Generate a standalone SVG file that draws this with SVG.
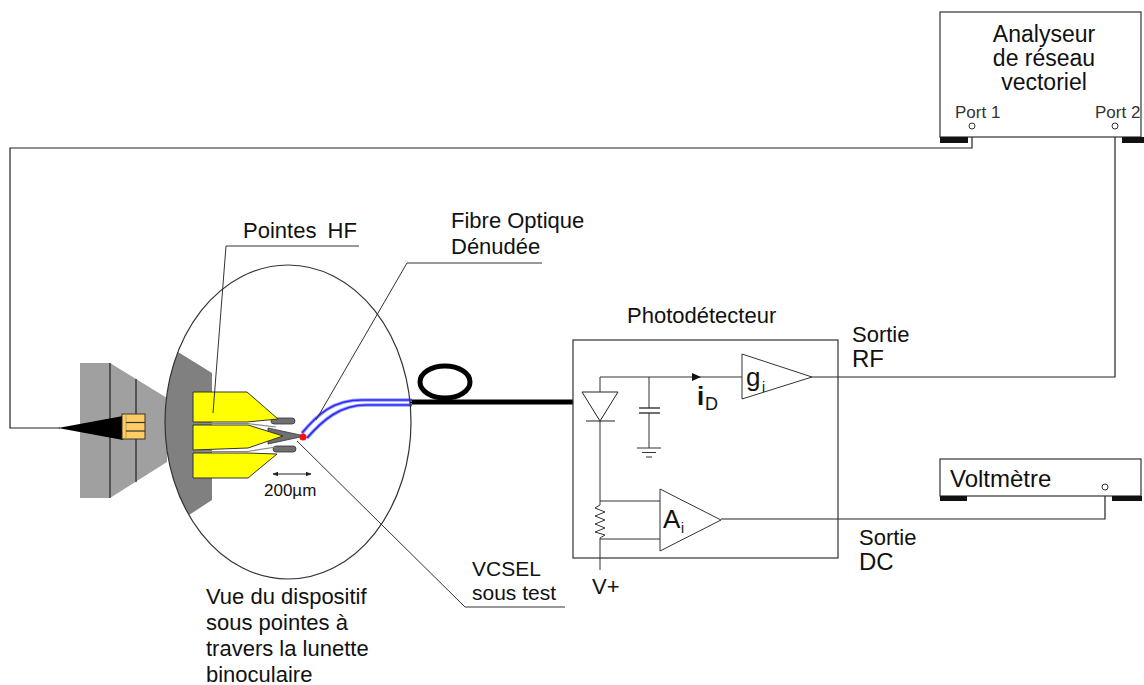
<svg xmlns="http://www.w3.org/2000/svg" width="1144" height="685" viewBox="0 0 1144 685">
  <style>
    text { font-family: "Liberation Sans", Arial, sans-serif; fill: #111; }
    .lbl { font-size: 22px; }
    .port { font-size: 17px; fill: #333; }
    .wire { fill: none; stroke: #222; stroke-width: 1.2; }
    .thin { fill: none; stroke: #333; stroke-width: 1; }
    .bar { fill: #111; }
    .yel { fill: #ffff00; stroke: #333; stroke-width: 1; }
    .tip { fill: #707070; stroke: #333; stroke-width: 0.8; }
    .fib { fill: none; stroke: #2a2aff; stroke-width: 1.6; }
    .fibglow { fill: none; stroke: #9aa0ff; stroke-width: 3.5; }
  </style>
  <defs>
    <marker id="ah" viewBox="0 0 10 10" refX="9" refY="5" markerWidth="6" markerHeight="6" orient="auto-start-reverse">
      <path d="M0,1 L10,5 L0,9 Z" fill="#222"/>
    </marker>
  </defs>

  <rect width="1144" height="685" fill="#fff"/>

  <!-- connectors -->
  <g id="connectors">
    <!-- port 1 to probe station -->
    <polyline class="wire" points="972,129 972,148 10,148 10,428 60,428"/>
    <!-- port 2 to RF output -->
    <polyline class="wire" points="1115,129 1115,377 812,377"/>
    <!-- DC output to voltmeter -->
    <polyline class="wire" points="721,519 1105,519 1105,490"/>
    <!-- optical fibre with loop -->
    <line x1="410" y1="402" x2="573" y2="402" stroke="#000" stroke-width="5"/>
    <ellipse cx="445" cy="382" rx="25" ry="16" fill="none" stroke="#000" stroke-width="5"/>
  </g>

  <!-- vector network analyser -->
  <g id="analyseur">
    <rect x="940" y="12" width="201" height="125" fill="#fff" stroke="#333" stroke-width="1.2"/>
    <rect class="bar" x="940" y="137" width="28" height="6"/>
    <rect class="bar" x="1122" y="137" width="22" height="6"/>
    <text x="1044" y="42" font-size="23" text-anchor="middle">Analyseur</text>
    <text x="1044" y="66" font-size="23" text-anchor="middle">de réseau</text>
    <text x="1044" y="90" font-size="23" text-anchor="middle">vectoriel</text>
    <text class="port" x="955" y="118">Port 1</text>
    <text class="port" x="1095" y="118">Port 2</text>
    <circle cx="972" cy="126" r="3" fill="#fff" stroke="#333" stroke-width="1"/>
    <circle cx="1115" cy="126" r="3" fill="#fff" stroke="#333" stroke-width="1"/>
  </g>

  <!-- voltmeter -->
  <g id="voltmetre">
    <rect x="940" y="459" width="201" height="37" fill="#fff" stroke="#333" stroke-width="1.2"/>
    <rect class="bar" x="940" y="496" width="27" height="5"/>
    <rect class="bar" x="1112" y="496" width="30" height="5"/>
    <text x="950" y="487" font-size="24">Voltmètre</text>
    <circle cx="1105" cy="487" r="3" fill="#fff" stroke="#333" stroke-width="1"/>
  </g>

  <!-- probe station seen through the binocular -->
  <g id="station">
    <polygon points="80,363 110,363 167,398 167,462 110,498 80,498" fill="#a0a0a0"/>
    <line x1="110" y1="363" x2="110" y2="498" stroke="#3a3a3a" stroke-width="1.5"/>
    <line x1="136" y1="379" x2="136" y2="482" stroke="#3a3a3a" stroke-width="1.5"/>
    <path d="M178,352 L212,373 L212,500 L189,515 A123 157 0 0 1 178,352 Z" fill="#808080"/>
    <!-- coaxial cone and connector -->
    <polygon points="58,428 123,416 123,440" fill="#000"/>
    <rect x="122" y="414" width="23" height="25" fill="#ffcc66" stroke="#333" stroke-width="1"/>
    <line x1="126" y1="414" x2="126" y2="439" stroke="#c89a40" stroke-width="1"/>
    <line x1="126" y1="422.5" x2="145" y2="422.5" stroke="#333" stroke-width="1.2"/>
    <line x1="126" y1="431" x2="145" y2="431" stroke="#333" stroke-width="1.2"/>
    <!-- probe tips -->
    <rect class="tip" x="271" y="418" width="24" height="6" rx="3"/>
    <rect class="tip" x="273" y="446" width="23" height="6" rx="3"/>
    <polygon class="tip" points="268,428 305,436 268,444"/>
    <polyline points="193,423.5 247,423.5 276,427" fill="none" stroke="#888" stroke-width="1.2"/>
    <polyline points="193,451.5 247,451.5 276,447" fill="none" stroke="#888" stroke-width="1.2"/>
    <polygon class="yel" points="193,392 247,392 278,419 247,422 193,422"/>
    <polygon class="yel" points="193,425 248,425 283,436 248,448 193,450"/>
    <polygon class="yel" points="193,453 247,453 277,454 248,478 193,478"/>
    <!-- stripped fibre -->
    <path class="fibglow" d="M302,433 C318,414 333,400 362,400 L412,400"/>
    <path class="fibglow" d="M307,438 C323,420 340,405 366,405 L412,405"/>
    <path class="fib" d="M302,433 C318,414 333,400 362,400 L412,400"/>
    <path class="fib" d="M307,438 C323,420 340,405 366,405 L412,405"/>
    <circle cx="303" cy="437" r="3.5" fill="#ff1010"/>
    <!-- view circle -->
    <ellipse cx="288" cy="422" rx="123" ry="157" fill="none" stroke="#333" stroke-width="1.2"/>
    <!-- scale -->
    <line x1="273" y1="474" x2="311" y2="474" stroke="#222" stroke-width="1" marker-start="url(#ah)" marker-end="url(#ah)"/>
    <text x="264" y="496" font-size="17">200µm</text>
  </g>

  <!-- callouts -->
  <g id="pointes">
    <text class="lbl" x="243" y="238" word-spacing="5">Pointes HF</text>
    <polyline class="thin" points="359,246 226,246 213,413"/>
  </g>
  <g id="fibre">
    <text class="lbl" x="451" y="228">Fibre Optique</text>
    <text class="lbl" x="451" y="254">Dénudée</text>
    <polyline class="thin" points="542,263 407,263 316,420"/>
  </g>
  <g id="vcsel">
    <text x="472" y="576" font-size="21">VCSEL</text>
    <text x="472" y="600" font-size="21">sous test</text>
    <polyline class="thin" points="565,607 465,607 297,441"/>
  </g>
  <g id="vue">
    <text class="lbl" x="206" y="604">Vue du dispositif</text>
    <text class="lbl" x="206" y="630">sous pointes à</text>
    <text class="lbl" x="206" y="656">travers la lunette</text>
    <text class="lbl" x="206" y="682">binoculaire</text>
  </g>

  <!-- photodetector -->
  <g id="photodetecteur">
    <text class="lbl" x="627" y="323">Photodétecteur</text>
    <rect x="573" y="340" width="265" height="218" fill="none" stroke="#333" stroke-width="1.2"/>
    <!-- photodiode -->
    <polygon points="582,392 618,392 600,421" fill="#fff" stroke="#222" stroke-width="1"/>
    <line x1="586" y1="421" x2="615" y2="421" stroke="#222" stroke-width="1"/>
    <polyline class="thin" points="600,392 600,377 742,377"/>
    <polygon points="692,373 701,377 692,381" fill="#111"/>
    <!-- capacitor to ground -->
    <line class="thin" x1="649" y1="377" x2="649" y2="408"/>
    <line x1="639" y1="408" x2="660" y2="408" stroke="#222" stroke-width="1.3"/>
    <line x1="639" y1="413" x2="660" y2="413" stroke="#222" stroke-width="1.3"/>
    <line class="thin" x1="649" y1="413" x2="649" y2="448"/>
    <line class="thin" x1="637" y1="448" x2="661" y2="448"/>
    <line class="thin" x1="642" y1="452.5" x2="656" y2="452.5"/>
    <line class="thin" x1="646" y1="457" x2="652" y2="457"/>
    <!-- bias branch with sense resistor -->
    <polyline class="thin" points="600,421 600,505 595,508 605,512 595,516 605,520 595,524 605,528 595,532 605,535 600,538 600,570"/>
    <polyline class="thin" points="600,501 660,501"/>
    <polyline class="thin" points="600,539 660,539"/>
    <!-- RF amplifier -->
    <polygon points="742,354 812,377 742,399" fill="#fff" stroke="#333" stroke-width="1"/>
    <text x="746" y="386" font-size="26">g</text>
    <text x="762" y="392" font-size="14">i</text>
    <text x="697" y="405" font-size="26" font-weight="bold">i</text>
    <text x="705" y="410" font-size="18">D</text>
    <!-- DC amplifier -->
    <polygon points="660,489 721,520 660,551" fill="#fff" stroke="#333" stroke-width="1"/>
    <text x="663" y="528" font-size="26">A</text>
    <text x="681" y="533" font-size="14">i</text>
    <text class="lbl" x="592" y="594">V+</text>
  </g>

  <!-- output labels -->
  <g id="sorties">
    <text class="lbl" x="852" y="342">Sortie</text>
    <text x="852" y="367" font-size="24">RF</text>
    <text class="lbl" x="859" y="545">Sortie</text>
    <text x="859" y="570" font-size="24">DC</text>
  </g>
</svg>
